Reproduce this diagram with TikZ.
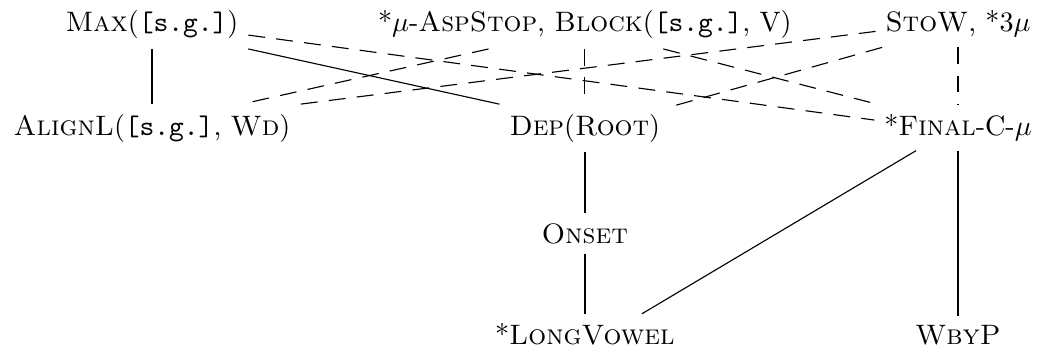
\documentclass[tikz,border=0pt]{standalone}
\begin{document}
\begin{tikzpicture}[
    con/.style={anchor=base},
    dom/.style={line width=.9pt},
    thin dom/.style={line width=.4pt},
    open/.style={line width=.4pt, dash pattern=on 6pt off 4pt}]
    \useasboundingbox (0,0) rectangle (13,-4.425);

    % constraints, top stratum
    \node [con] (max)  at (1.90,-0.40)  {\textsc{Max}(\texttt{[s.g.]})};
    \node [con] (asp)  at (7.31,-0.40)  {*$\mu$-\textsc{AspStop}, \textsc{Block}(\texttt{[s.g.]}, V)};
    \node [con] (stow) at (11.975,-0.40) {\textsc{StoW}, *3$\mu$};

    % middle
    \node [con] (align) at (1.90,-1.69)  {\textsc{AlignL}(\texttt{[s.g.]}, \textsc{Wd})};
    \node [con] (dep)   at (7.31,-1.69)  {\textsc{Dep}(\textsc{Root})};
    \node [con] (final) at (11.975,-1.69) {*\textsc{Final}-C-$\mu$};

    % bottom
    \node [con] (onset) at (7.31,-3.04)  {\textsc{Onset}};
    \node [con] (long)  at (7.31,-4.31)  {*\textsc{LongVowel}};
    \node [con] (wbyp)  at (11.975,-4.31) {\textsc{WbyP}};

    \draw [dom] (max) -- (align);
    \draw [thin dom] (max.south east) -- (dep.north west);
    \draw [open] (max.-6) -- (final.175);

    \draw [open] (asp.194) -- (align.15);
    \draw [open] (asp) -- (dep);
    \draw [open] (asp.-17) -- (final.164);

    \draw [open] (stow.185) -- (align.north east);
    \draw [open] (stow.197) -- (dep.14);
    \draw [open] (stow) -- (final);

    \draw [dom] (dep) -- (onset);
    \draw [dom] (onset) -- (long);
    \draw [thin dom] (final.209) -- (long.20);
    \draw [dom] (final) -- (wbyp);
\end{tikzpicture}
\end{document}
